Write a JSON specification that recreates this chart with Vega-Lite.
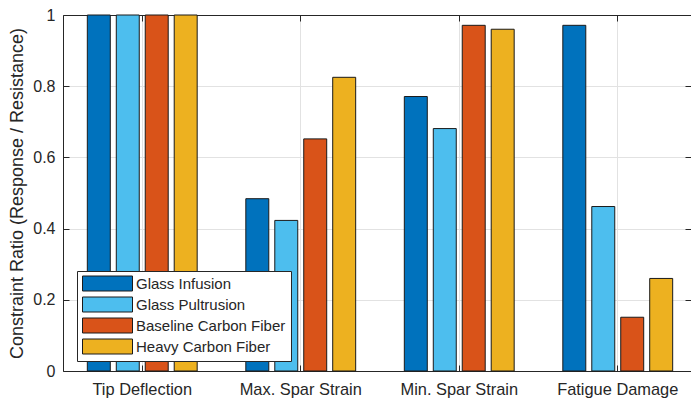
{
  "$schema": "https://vega.github.io/schema/vega-lite/v6.json",
  "autosize": {"type": "none"},
  "padding": {"left": 63, "top": 15, "right": 0, "bottom": 31},
  "width": 628,
  "height": 356,
  "background": "white",
  "config": {
    "font": "Liberation Sans",
    "view": {"stroke": null},
    "axis": {
      "domainColor": "#262626",
      "tickColor": "#262626",
      "labelColor": "#262626",
      "titleColor": "#262626",
      "labelFont": "Liberation Sans",
      "titleFont": "Liberation Sans",
      "titleFontWeight": "normal",
      "gridColor": "#e2e2e2",
      "gridWidth": 1,
      "domainWidth": 1,
      "tickWidth": 1
    },
    "legend": {
      "labelFont": "Liberation Sans",
      "labelColor": "#262626"
    }
  },
  "data": {
    "values": [
      {"constraint": "Tip Deflection", "material": "Glass Infusion", "ratio": 1.0},
      {"constraint": "Tip Deflection", "material": "Glass Pultrusion", "ratio": 1.0},
      {"constraint": "Tip Deflection", "material": "Baseline Carbon Fiber", "ratio": 1.0},
      {"constraint": "Tip Deflection", "material": "Heavy Carbon Fiber", "ratio": 1.0},
      {"constraint": "Max. Spar Strain", "material": "Glass Infusion", "ratio": 0.484},
      {"constraint": "Max. Spar Strain", "material": "Glass Pultrusion", "ratio": 0.423},
      {"constraint": "Max. Spar Strain", "material": "Baseline Carbon Fiber", "ratio": 0.652},
      {"constraint": "Max. Spar Strain", "material": "Heavy Carbon Fiber", "ratio": 0.825},
      {"constraint": "Min. Spar Strain", "material": "Glass Infusion", "ratio": 0.771},
      {"constraint": "Min. Spar Strain", "material": "Glass Pultrusion", "ratio": 0.681},
      {"constraint": "Min. Spar Strain", "material": "Baseline Carbon Fiber", "ratio": 0.971},
      {"constraint": "Min. Spar Strain", "material": "Heavy Carbon Fiber", "ratio": 0.960},
      {"constraint": "Fatigue Damage", "material": "Glass Infusion", "ratio": 0.971},
      {"constraint": "Fatigue Damage", "material": "Glass Pultrusion", "ratio": 0.462},
      {"constraint": "Fatigue Damage", "material": "Baseline Carbon Fiber", "ratio": 0.151},
      {"constraint": "Fatigue Damage", "material": "Heavy Carbon Fiber", "ratio": 0.260}
    ]
  },
  "resolve": {"axis": {"x": "independent", "y": "independent"}},
  "layer": [
    {
      "mark": {"type": "bar", "stroke": "#1a1a1a", "strokeWidth": 1},
      "encoding": {
        "x": {
          "field": "constraint",
          "type": "nominal",
          "sort": ["Tip Deflection", "Max. Spar Strain", "Min. Spar Strain", "Fatigue Damage"],
          "scale": {"paddingInner": 0, "paddingOuter": 0, "range": [0, 634]},
          "axis": {
            "orient": "bottom",
            "title": null,
            "labelAngle": 0,
            "labelFontSize": 16.4,
            "tickSize": -6,
            "labelPadding": 16,
            "grid": true,
            "domain": true
          }
        },
        "xOffset": {
          "field": "material",
          "type": "nominal",
          "sort": ["Glass Infusion", "Glass Pultrusion", "Baseline Carbon Fiber", "Heavy Carbon Fiber"],
          "scale": {"paddingInner": 0.207, "paddingOuter": 0.84}
        },
        "y": {
          "field": "ratio",
          "type": "quantitative",
          "scale": {"domain": [0, 1], "nice": false, "zero": true},
          "axis": {
            "orient": "left",
            "title": "Constraint Ratio (Response / Resistance)",
            "titleFontSize": 18,
            "titlePadding": 6,
            "values": [0, 0.2, 0.4, 0.6, 0.8, 1],
            "format": "~g",
            "labelFontSize": 16,
            "tickSize": -6,
            "labelPadding": 14,
            "grid": true,
            "domain": true
          }
        },
        "color": {
          "field": "material",
          "type": "nominal",
          "sort": ["Glass Infusion", "Glass Pultrusion", "Baseline Carbon Fiber", "Heavy Carbon Fiber"],
          "scale": {
            "domain": ["Glass Infusion", "Glass Pultrusion", "Baseline Carbon Fiber", "Heavy Carbon Fiber"],
            "range": ["#0072BD", "#4DBEEE", "#D95319", "#EDB120"]
          },
          "legend": {
            "title": null,
            "orient": "none",
            "legendX": 14,
            "legendY": 256,
            "labelFontSize": 15,
            "symbolType": "M-5,-1.5H5V1.5H-5Z",
            "symbolSize": 100,
            "symbolOffset": 18,
            "symbolStrokeColor": "#1a1a1a",
            "symbolStrokeWidth": 1,
            "symbolOpacity": 1,
            "labelOffset": 21,
            "rowPadding": 2,
            "padding": 5,
            "strokeColor": "#262626",
            "fillColor": "white",
            "cornerRadius": 0
          }
        }
      }
    },
    {
      "mark": {"type": "point", "opacity": 0},
      "encoding": {
        "x": {
          "field": "constraint",
          "type": "nominal",
          "sort": ["Tip Deflection", "Max. Spar Strain", "Min. Spar Strain", "Fatigue Damage"],
          "axis": {
            "orient": "top",
            "title": null,
            "labels": false,
            "tickSize": -6,
            "grid": false,
            "domain": true
          }
        },
        "y": {
          "field": "ratio",
          "type": "quantitative",
          "axis": {
            "orient": "right",
            "title": null,
            "labels": false,
            "values": [0, 0.2, 0.4, 0.6, 0.8, 1],
            "tickSize": -6,
            "grid": false,
            "domain": false
          }
        }
      }
    }
  ]
}
